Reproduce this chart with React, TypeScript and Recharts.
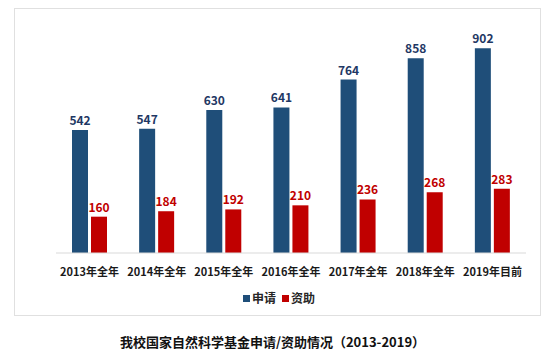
import React from "react";
import { BarChart, Bar, XAxis, YAxis, Legend, LabelList } from "recharts";

const categories = ["2013年全年", "2014年全年", "2015年全年", "2016年全年", "2017年全年", "2018年全年", "2019年目前"];
const applied = [542, 547, 630, 641, 764, 858, 902];
const funded = [160, 184, 192, 210, 236, 268, 283];

const data = categories.map((name, i) => ({ name, applied: applied[i], funded: funded[i] }));

const FONT = '"Noto Sans CJK SC", "Noto Sans", sans-serif';

// legend drawn by hand so the squares sit close to the text like the original
const renderLegend = (props: any) => {
  const items = props.payload || [];
  return (
    <div style={{ display: "flex", justifyContent: "center", alignItems: "center", gap: 6 }}>
      {items.map((it: any) => (
        <span key={it.value} style={{ display: "inline-flex", alignItems: "center", gap: 2 }}>
          <span style={{ display: "inline-block", width: 7, height: 7, background: it.color }} />
          <span style={{ fontSize: 12, fontWeight: "bold", color: "#262626", lineHeight: "16px" }}>{it.value}</span>
        </span>
      ))}
    </div>
  );
};

export default function App() {
  return (
    <div style={{ position: "absolute", left: 0, top: 0, width: 554, height: 352, background: "#fff", fontFamily: FONT }}>
      <div
        style={{
          position: "absolute",
          left: 14,
          top: 8,
          width: 525,
          height: 306,
          border: "1px solid #e0e0e0",
        }}
      />
      <div style={{ position: "absolute", left: 0, top: 0 }}>
        <BarChart
          width={554}
          height={320}
          data={data}
          margin={{ top: 26, right: 28, left: 56, bottom: 37 }}
          barSize={16}
          barGap={3}
        >
          <XAxis
            dataKey="name"
            height={30}
            tickLine={false}
            axisLine={{ stroke: "#d9d9d9" }}
            tickMargin={9}
            interval={0}
            tick={{ fill: "#1a1a1a", fontSize: 11, fontWeight: "bold", fontFamily: FONT }}
          />
          <YAxis hide domain={[0, 1000]} />
          <Legend
            verticalAlign="middle"
            layout="horizontal"
            content={renderLegend}
            wrapperStyle={{ top: 290, left: 2, width: 554, fontFamily: FONT }}
          />
          <Bar dataKey="applied" name="申请" fill="#1F4E79" isAnimationActive={false}>
            <LabelList
              dataKey="applied"
              position="top"
              offset={5}
              style={{ fill: "#1F3864", fontSize: 12, fontWeight: "bold", fontFamily: FONT }}
            />
          </Bar>
          <Bar dataKey="funded" name="资助" fill="#C00000" isAnimationActive={false}>
            <LabelList
              dataKey="funded"
              position="top"
              offset={5}
              style={{ fill: "#C00000", fontSize: 12, fontWeight: "bold", fontFamily: FONT }}
            />
          </Bar>
        </BarChart>
      </div>
      <div
        style={{
          position: "absolute",
          left: 0,
          top: 332,
          width: 545,
          textAlign: "center",
          fontSize: 13,
          fontWeight: "bold",
          color: "#111",
        }}
      >
        我校国家自然科学基金申请/资助情况（2013-2019）
      </div>
    </div>
  );
}
